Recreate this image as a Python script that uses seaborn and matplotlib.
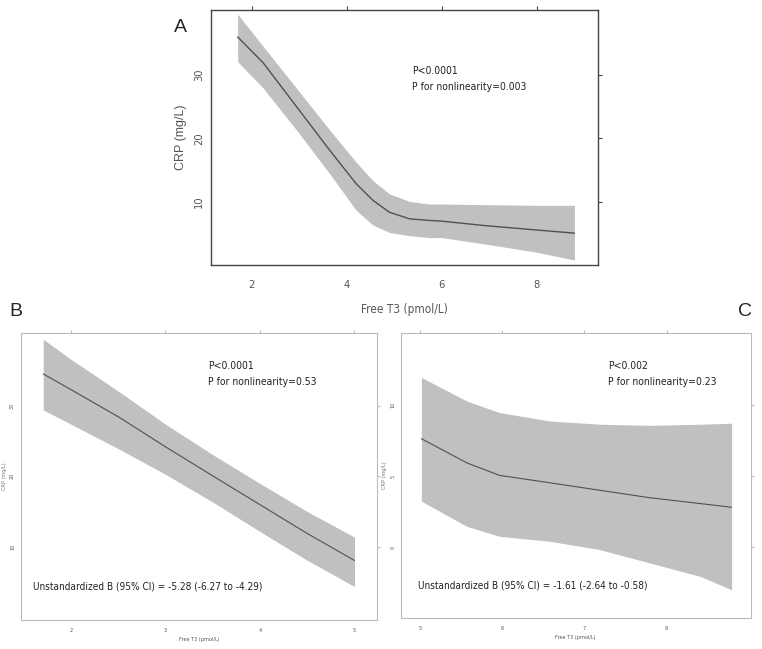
import matplotlib
matplotlib.use("Agg")
import matplotlib.pyplot as plt
import seaborn as sns
import pandas as pd

# panel A: restricted cubic spline, full range
a_x = [1.7, 2.24, 2.94, 3.64, 4.2, 4.55, 4.9, 5.33, 5.75, 6.0, 6.9, 8.0, 8.8]
a_fit = [36.0, 31.9, 25.0, 18.1, 12.8, 10.2, 8.3, 7.25, 7.0, 6.9, 6.2, 5.5, 5.0]
a_upper = [39.6, 34.5, 27.9, 21.3, 16.2, 13.3, 11.2, 10.0, 9.6, 9.6, 9.5, 9.4, 9.4]
a_lower = [32.1, 27.9, 21.3, 14.4, 8.6, 6.3, 5.1, 4.6, 4.3, 4.3, 3.3, 2.0, 0.75]

# panel B: Free T3 <= 5
b_x = [1.71, 2.0, 2.52, 3.0, 3.51, 4.0, 4.49, 5.0]
b_fit = [34.5, 32.3, 28.3, 24.2, 20.0, 16.0, 12.0, 8.1]
b_upper = [39.4, 36.6, 31.9, 27.4, 23.0, 19.0, 15.1, 11.4]
b_lower = [29.4, 27.4, 23.8, 20.3, 16.3, 12.2, 8.2, 4.4]

# panel C: Free T3 >= 5
c_x = [5.02, 5.57, 5.97, 6.58, 7.19, 7.8, 8.41, 8.79]
c_fit = [7.64, 5.94, 5.05, 4.53, 4.0, 3.47, 3.06, 2.8]
c_upper = [11.96, 10.3, 9.48, 8.89, 8.66, 8.58, 8.66, 8.73]
c_lower = [3.23, 1.46, 0.75, 0.40, -0.19, -1.13, -2.08, -3.02]

panels = [
    ("A", a_x, a_fit, a_upper, a_lower, [2, 4, 6, 8], [10, 20, 30],
     (1.14, 9.3), (0, 40.3), "P<0.0001\nP for nonlinearity=0.003", None),
    ("B", b_x, b_fit, b_upper, b_lower, [2, 3, 4, 5], [10, 20, 30],
     (1.47, 5.24), (-0.3, 40.3), "P<0.0001\nP for nonlinearity=0.53",
     "Unstandardized B (95% CI) = -5.28 (-6.27 to -4.29)"),
    ("C", c_x, c_fit, c_upper, c_lower, [5, 6, 7, 8], [0, 5, 10],
     (4.77, 9.02), (-5.0, 15.1), "P<0.002\nP for nonlinearity=0.23",
     "Unstandardized B (95% CI) = -1.61 (-2.64 to -0.58)"),
]

# where the annotations sit, in axes fractions
p_pos = {"A": (0.52, 0.73), "B": (0.525, 0.857), "C": (0.592, 0.857)}
b_pos = {"B": (0.035, 0.115), "C": (0.05, 0.115)}

sns.set_style("white")
plt.rcParams["font.family"] = ["DejaVu Sans"]
plt.rcParams["font.stretch"] = "condensed"
arial = ["Liberation Sans", "DejaVu Sans"]

fig = plt.figure(figsize=(7.62, 6.49), dpi=100)
rects = {
    "A": [0.277, 0.592, 0.508, 0.393],
    "B": [0.027, 0.045, 0.468, 0.442],
    "C": [0.526, 0.048, 0.459, 0.439],
}

for name, x, fit, up, lo, xt, yt, xl, yl, ptxt, btxt in panels:
    ax = fig.add_axes(rects[name])
    ax.fill_between(x, lo, up, color="#c0c0c0", linewidth=0, zorder=1)
    df = pd.DataFrame({"x": x, "y": fit})
    sns.lineplot(data=df, x="x", y="y", ax=ax, color="#505050",
                 linewidth=1.0 if name == "A" else 0.8, zorder=2)
    ax.set_xlim(*xl)
    ax.set_ylim(*yl)
    ax.set_xticks(xt)
    ax.set_yticks(yt)
    big = name == "A"
    edge = "#444444" if big else "#bbbbbb"
    for s in ax.spines.values():
        s.set_color(edge)
        s.set_linewidth(1.0 if big else 0.8)
    ax.tick_params(direction="out", length=3 if big else 2, width=0.8,
                   colors=edge, labelcolor="#555555",
                   labelsize=8 if big else 4,
                   top=True, right=True, labeltop=False, labelright=False)
    ax.tick_params(axis="x", pad=8 if big else 4)
    ax.tick_params(axis="y", pad=2, labelrotation=90)
    for lab in ax.get_yticklabels():
        lab.set_verticalalignment("center")
    ax.set_xlabel("Free T3 (pmol/L)", fontsize=8.5 if big else 4,
                  color="#555555", labelpad=9 if big else 3)
    if big:
        ax.set_ylabel("CRP (mg/L)", fontsize=9, color="#555555",
                      labelpad=5, family=arial, stretch="normal")
    else:
        ax.set_ylabel("CRP (mg/L)", fontsize=4, color="#777777", labelpad=2)
    ax.text(*p_pos[name], ptxt, transform=ax.transAxes, fontsize=7.5,
            linespacing=1.75, va="center", ha="left", color="#222222")
    if btxt:
        ax.text(*b_pos[name], btxt, transform=ax.transAxes, fontsize=7.2,
                va="center", ha="left", color="#222222")

fig.text(180 / 762, 1 - 27 / 649, "A", fontsize=14, ha="center", va="center",
         family=arial, stretch="normal")
fig.text(16 / 762, 1 - 312 / 649, "B", fontsize=14, ha="center", va="center",
         family=arial, stretch="normal")
fig.text(745 / 762, 1 - 312 / 649, "C", fontsize=14, ha="center", va="center",
         family=arial, stretch="normal")

fig.savefig("out.png", dpi=100)
